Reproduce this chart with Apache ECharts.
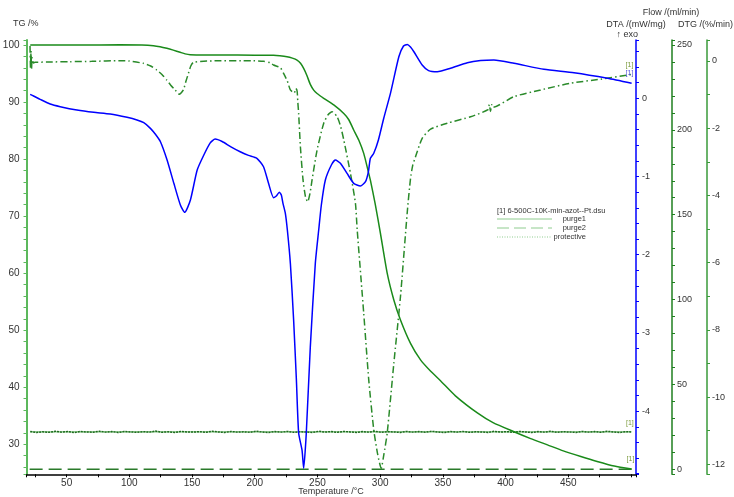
<!DOCTYPE html>
<html><head><meta charset="utf-8">
<script src="https://cdn.jsdelivr.net/npm/echarts@6/dist/echarts.min.js"></script>
<style>html,body{margin:0;padding:0;background:#fff}#c{width:734px;height:497px}</style>
</head><body><div id="c"></div>
<script>
// ---- TG (%) ----
const tgT = [21, 60, 92.6, 110, 119.2, 124.5, 129.9, 135, 140.5, 144.5, 148.5, 160, 172.4, 200, 215, 220, 225.7, 230, 233.7, 236.5, 239, 241.5, 244.3, 247, 249.7, 255, 263, 271, 275, 278.9, 283, 286.9, 290, 292.2, 296, 300.2, 305.6, 310.9, 316.2, 324.2, 332.2, 340.3, 348.3, 360, 377.5, 390, 406.7, 420, 433.4, 446, 460, 473, 486.6, 500.5];
const tgV = [100.0, 100.0, 100.05, 100.0, 99.88, 99.7, 99.42, 99.1, 98.72, 98.45, 98.3, 98.25, 98.25, 98.22, 98.2, 98.12, 97.95, 97.7, 97.37, 96.8, 95.9, 94.7, 93.1, 92.1, 91.5, 90.66, 89.5, 88.0, 86.9, 85.1, 83.3, 81.0, 78.3, 76.3, 72.2, 67.0, 60.0, 55.3, 51.8, 47.7, 44.8, 42.8, 41.1, 38.5, 35.5, 33.8, 32.2, 31.0, 29.9, 28.85, 27.86, 27.0, 26.2, 25.65];
// ---- DTA (mW/mg) ----
const dtaT = [20.9, 23.6, 28.9, 36.9, 44.9, 58.2, 71.6, 84.8, 98.2, 106.1, 111.5, 116.8, 120.8, 124.8, 130.1, 135.5, 140.7, 144.2, 148.7, 154.1, 159.4, 164.5, 168.4, 174, 181, 188.4, 195, 201.7, 207, 211, 215, 217.2, 219.6, 221.2, 222.5, 224.4, 226, 228.4, 231, 233.2, 235, 237.7, 239, 241.1, 244.3, 248.3, 251, 253.1, 256.3, 261.1, 264.3, 268.3, 273.6, 278.9, 284.2, 288.3, 290.6, 292.2, 294.9, 298.6, 302.9, 308.2, 314.9, 318.6, 321.6, 324.2, 326.9, 333.5, 338.6, 345.5, 356.1, 369.5, 380.1, 390.7, 406.7, 430.6, 454.6, 481.3, 500.5];
const dtaV = [0.05, 0.03, -0.013, -0.073, -0.107, -0.15, -0.179, -0.20, -0.243, -0.277, -0.312, -0.384, -0.46, -0.555, -0.789, -1.087, -1.364, -1.458, -1.30, -0.917, -0.725, -0.57, -0.52, -0.552, -0.62, -0.683, -0.73, -0.767, -0.875, -1.087, -1.27, -1.25, -1.20, -1.237, -1.343, -1.47, -1.684, -2.11, -2.835, -3.60, -4.28, -4.50, -4.73, -4.28, -3.18, -2.11, -1.684, -1.364, -1.045, -0.853, -0.789, -0.83, -0.96, -1.087, -1.12, -1.066, -0.94, -0.767, -0.703, -0.533, -0.252, 0.064, 0.532, 0.669, 0.69, 0.656, 0.596, 0.426, 0.355, 0.34, 0.384, 0.455, 0.483, 0.49, 0.448, 0.371, 0.327, 0.256, 0.192];
// ---- DTG (%/min) ----
const dtgT = [20.8, 21.2, 21.6, 22.0, 22.5, 23.5, 24.7, 35, 52.6, 70, 92.6, 100, 111.2, 117, 121.9, 126, 129.9, 133, 136.5, 140, 143.1, 145, 147.1, 149, 151.1, 161.8, 199, 207, 212.4, 215, 220.4, 223, 226, 228.4, 231.5, 232.8, 233.8, 234.3, 235, 236.4, 238.5, 240.5, 242.2, 244, 245.7, 249.7, 255, 258.5, 261.7, 265.7, 268.5, 271, 276.3, 280.3, 281.7, 286.9, 290.9, 294.9, 298, 300.8, 303, 305.6, 310.9, 316.2, 321.6, 324.2, 326, 328.2, 333.5, 340.2, 353.5, 372.1, 386, 387, 388, 389, 390, 406.7, 428, 452, 476, 497.3, 500.5];
const dtgV = [0.45, -0.2, 0.3, -0.25, 0.1, -0.06, -0.04, -0.03, -0.02, -0.01, 0.01, 0.0, -0.07, -0.15, -0.27, -0.4, -0.57, -0.72, -0.86, -0.99, -0.86, -0.62, -0.37, -0.15, -0.04, 0.0, 0.01, -0.01, -0.05, -0.12, -0.2, -0.37, -0.6, -0.86, -0.95, -0.82, -0.9, -1.2, -1.56, -2.55, -3.54, -4.05, -4.19, -3.95, -3.54, -2.65, -1.85, -1.6, -1.51, -1.66, -1.95, -2.35, -3.34, -4.24, -5.03, -7.51, -9.49, -10.98, -11.7, -12.12, -11.7, -11.08, -9.0, -7.01, -4.5, -3.5, -3.1, -2.85, -2.30, -2.03, -1.85, -1.66, -1.45, -1.3, -1.5, -1.3, -1.38, -1.06, -0.86, -0.66, -0.54, -0.42, -0.4];
// ---- Flow (ml/min) ----
const flowT = [21,26,31,36,41,46,51,56,61,66,71,76,81,86,91,96,101,106,111,116,121,126,131,136,141,146,151,156,161,166,171,176,181,186,191,196,201,206,211,216,221,226,231,236,241,246,251,256,261,266,271,276,281,286,291,296,301,306,311,316,321,326,331,336,341,346,351,356,361,366,371,376,381,386,391,396,401,406,411,416,421,426,431,436,441,446,451,456,461,466,471,476,481,486,491,496,500];
const protectiveV = [
 22.3, 21.7, 22.1, 21.8, 22.4, 21.9, 22.2, 21.6, 22.3, 22.0,
 21.8, 22.4, 21.9, 22.2, 21.7, 22.3, 22.0, 21.8, 22.2, 21.9,
 22.5, 21.8, 22.1, 21.7, 22.3, 22.0, 21.9, 22.2, 21.8, 22.4,
 22.0, 21.7, 22.3, 21.9, 22.1, 21.8, 22.4, 22.0, 21.7, 22.2,
 21.9, 22.3, 21.8, 22.1, 22.0, 21.7, 22.4, 21.9, 22.2, 21.8,
 22.3, 22.0, 21.7, 22.2, 21.9, 22.4, 21.8, 22.1, 22.0, 21.7,
 22.3, 21.9, 22.2, 21.8, 22.4, 22.0, 21.7, 22.2, 21.9, 22.3,
 21.8, 22.1, 22.0, 21.7, 22.4, 21.9, 22.2, 21.8, 22.3, 22.0,
 21.7, 22.2, 21.9, 22.4, 21.8, 22.1, 22.0, 21.7, 22.3, 21.9,
 22.2, 21.8, 22.4, 22.0, 21.7, 22.2, 22.0];
const purge1T = [20.8, 500.5];
const purge1V = [22, 22];
const purge2T = [20.5, 500.5];
const purge2V = [0, 0];
// ---- texts ----
const xName = 'Temperature /°C';
const tgName = 'TG /%';
const flowName = 'Flow /(ml/min)';
const dtaName = 'DTA /(mW/mg)';
const dtgName = 'DTG /(%/min)';
const exoText = '↑ exo';
const legendTitle = '[1] 6-500C-10K-min-azot--Pt.dsu';
const legendNames = ['purge1', 'purge2', 'protective'];

function zip(a, b) { const n = Math.min(a.length, b.length); const r = []; for (let i = 0; i < n; i++) r.push([a[i], b[i]]); return r; }
const FF = '"Liberation Sans", Arial, sans-serif';
const TXT = '#333';
const near = (v, s) => Math.abs(v / s - Math.round(v / s)) < 1e-6;

function yAx(o) {
  return Object.assign({
    type: 'value', splitLine: { show: false },
    axisLine: { show: true, onZero: false, lineStyle: { color: o.color, width: o.w || 1.5 } },
    axisTick: { show: true, inside: false, length: 3, lineStyle: { color: o.color, width: 1 } },
    axisLabel: { fontSize: o.fs || 9, color: TXT, fontFamily: FF, margin: o.margin || 5, formatter: o.fmt }
  }, o.extra);
}

const chart = echarts.init(document.getElementById('c'), null, { renderer: 'canvas' });
const endLbl = (c, off) => ({ show: true, formatter: '[1]', fontSize: 7, fontFamily: FF, color: c, offset: off });

chart.setOption({
  animation: false,
  backgroundColor: '#fff',
  grid: { left: 26.5, right: 98, top: 40, bottom: 22.7, containLabel: false, outerBoundsMode: 'none' },
  xAxis: {
    type: 'value', min: 18, max: 504, minInterval: 25, maxInterval: 25,
    splitLine: { show: false },
    axisLine: { show: true, onZero: false, lineStyle: { color: '#000', width: 1.5 } },
    axisTick: { show: true, length: 3, lineStyle: { color: '#000' } },
    axisLabel: { fontSize: 10, color: TXT, fontFamily: FF, margin: 4,
      formatter: v => (near(v, 50) && v >= 50 && v <= 450) ? String(Math.round(v)) : '' }
  },
  yAxis: [
    yAx({ color: '#5cb85c', w: 2, fs: 10, margin: 7,
      fmt: v => (near(v, 10) && v >= 30 && v <= 100) ? String(Math.round(v)) : '',
      extra: { position: 'left', min: 24.74, max: 100.88, minInterval: 2, maxInterval: 2 } }),
    yAx({ color: '#0000ff', margin: 6,
      fmt: v => (near(v, 1) && v <= 0.001 && v >= -4.001) ? String(Math.round(v) === 0 ? 0 : Math.round(v)) : '',
      extra: { position: 'right', offset: 0, min: -4.808, max: 0.746, minInterval: 0.2, maxInterval: 0.2 } }),
    yAx({ color: '#1f7f1f', margin: 5,
      fmt: v => (near(v, 50) && v >= 0 && v <= 250) ? String(Math.round(v)) : '',
      extra: { position: 'right', offset: 36, min: -2.95, max: 252.95, minInterval: 10, maxInterval: 10 } }),
    yAx({ color: '#3a9a3a', margin: 5,
      fmt: v => (near(v, 2) && v <= 0.001 && v >= -12.001) ? String(Math.round(v) === 0 ? 0 : Math.round(v)) : '',
      extra: { position: 'right', offset: 71, min: -12.30, max: 0.625, minInterval: 1, maxInterval: 1 } })
  ],
  series: [
    { name: 'purge2', type: 'line', yAxisIndex: 2, data: zip(purge2T, purge2V), symbol: 'none', silent: true,
      lineStyle: { color: '#2a7a2a', width: 1.5, type: [13, 6] } },
    { name: 'purge1', type: 'line', yAxisIndex: 2, data: zip(purge1T, purge1V), symbol: 'none', silent: true,
      lineStyle: { color: '#7cc47c', width: 1.3 } },
    { name: 'protective', type: 'line', yAxisIndex: 2, data: zip(flowT, protectiveV), symbol: 'none', silent: true,
      lineStyle: { color: '#1f6a1f', width: 1.5, type: [2, 1] },
      endLabel: endLbl('#7a9a3a', [-13, -9]) },
    { name: 'TG', type: 'line', yAxisIndex: 0, data: zip(tgT, tgV), symbol: 'none', smooth: 0.2, silent: true,
      lineStyle: { color: '#1a8a1a', width: 1.5 },
      endLabel: endLbl('#7a9a3a', [-13, -10]) },
    { name: 'DTG', type: 'line', yAxisIndex: 3, data: zip(dtgT, dtgV), symbol: 'none', smooth: 0.2, silent: true,
      lineStyle: { color: '#2a8a2a', width: 1.5, type: [7, 3, 1.5, 3] },
      endLabel: endLbl('#7a9a3a', [-14, -9]) },
    { name: 'DTA', type: 'line', yAxisIndex: 1, data: zip(dtaT, dtaV), symbol: 'none', smooth: 0.2, silent: true,
      lineStyle: { color: '#0000ff', width: 1.5 },
      endLabel: endLbl('#5555dd', [-14, -10]) }
  ],
  graphic: [
    { type: 'text', x: 13, y: 24, style: { text: tgName, fontSize: 9, fontFamily: FF, fill: TXT, align: 'left', verticalAlign: 'middle' } },
    { type: 'text', x: 671, y: 13, style: { text: flowName, fontSize: 9, fontFamily: FF, fill: TXT, align: 'center', verticalAlign: 'middle' } },
    { type: 'text', x: 636, y: 25, style: { text: dtaName, fontSize: 9, fontFamily: FF, fill: TXT, align: 'center', verticalAlign: 'middle' } },
    { type: 'text', x: 705.5, y: 25, style: { text: dtgName, fontSize: 9, fontFamily: FF, fill: TXT, align: 'center', verticalAlign: 'middle' } },
    { type: 'text', x: 616.5, y: 34.5, style: { text: exoText, fontSize: 9, fontFamily: FF, fill: TXT, align: 'left', verticalAlign: 'middle' } },
    { type: 'text', x: 331, y: 492, style: { text: xName, fontSize: 9, fontFamily: FF, fill: TXT, align: 'center', verticalAlign: 'middle' } },
    { type: 'text', x: 497, y: 210.7, style: { text: legendTitle, fontSize: 7.5, fontFamily: FF, fill: TXT, align: 'left', verticalAlign: 'middle' } },
    { type: 'line', shape: { x1: 497, y1: 219, x2: 552, y2: 219 }, style: { stroke: '#8fcc8f', lineWidth: 1 } },
    { type: 'line', shape: { x1: 497, y1: 228, x2: 552, y2: 228 }, style: { stroke: '#8fcc8f', lineWidth: 1, lineDash: [12, 5] } },
    { type: 'line', shape: { x1: 497, y1: 237, x2: 552, y2: 237 }, style: { stroke: '#8fcc8f', lineWidth: 1, lineDash: [1, 1.5] } },
    { type: 'text', x: 586, y: 219, style: { text: legendNames[0], fontSize: 7.5, fontFamily: FF, fill: TXT, align: 'right', verticalAlign: 'middle' } },
    { type: 'text', x: 586, y: 228, style: { text: legendNames[1], fontSize: 7.5, fontFamily: FF, fill: TXT, align: 'right', verticalAlign: 'middle' } },
    { type: 'text', x: 586, y: 237, style: { text: legendNames[2], fontSize: 7.5, fontFamily: FF, fill: TXT, align: 'right', verticalAlign: 'middle' } }
  ]
});
</script>
</body></html>
